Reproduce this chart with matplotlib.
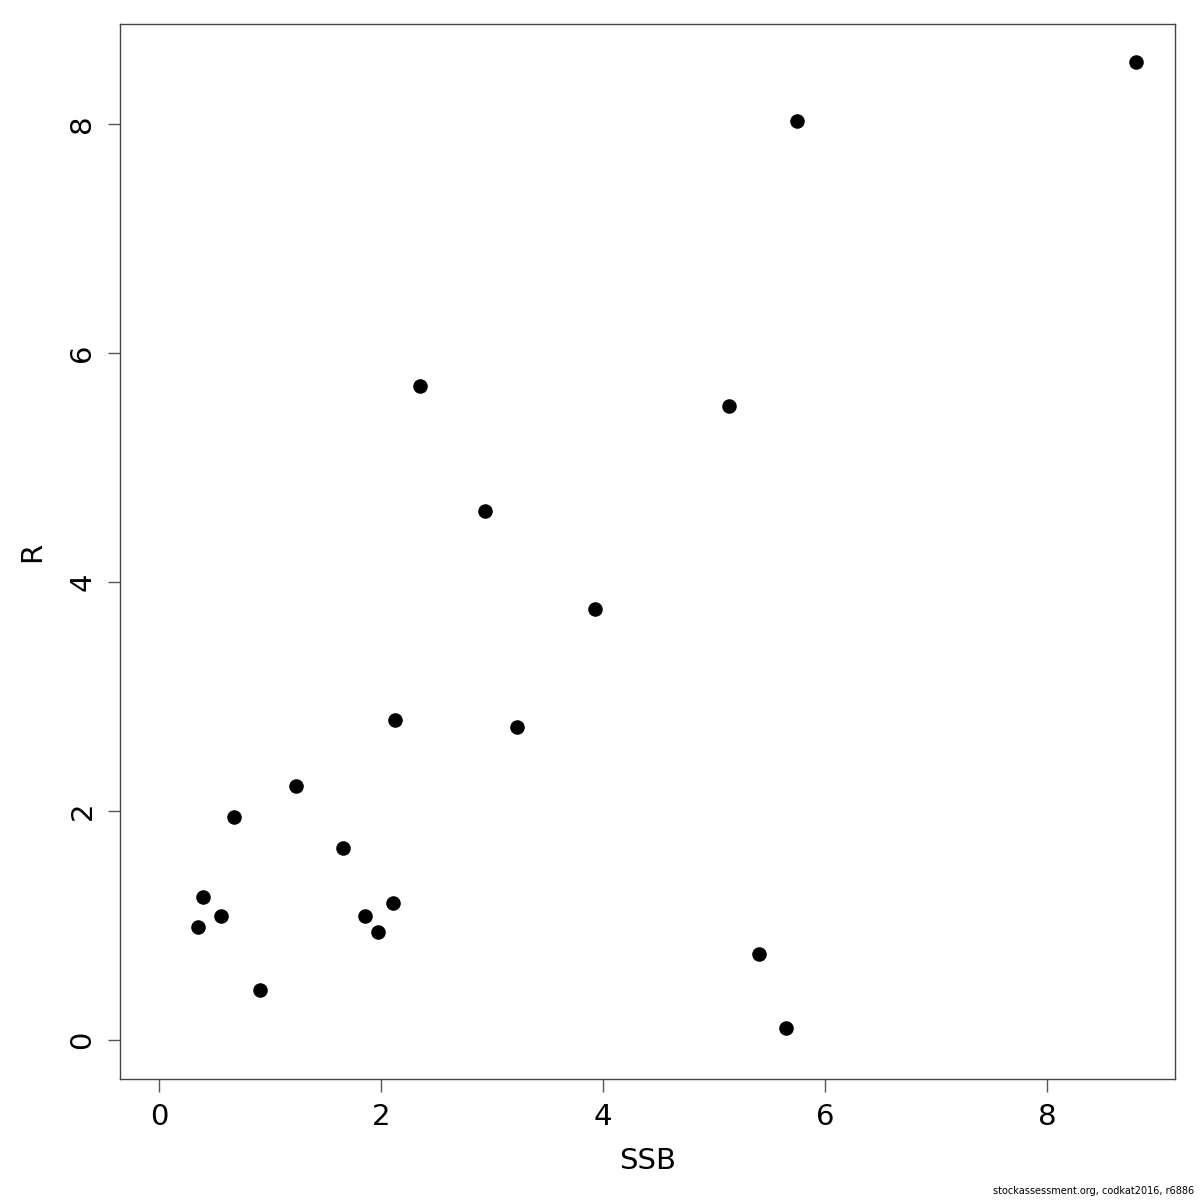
import matplotlib
matplotlib.use("Agg")
import matplotlib.pyplot as plt

ssb = [0.351, 0.396, 0.559, 0.676, 0.910, 1.234, 1.658, 1.856, 1.973, 2.108,
       2.126, 2.351, 2.937, 3.225, 3.928, 5.135, 5.405, 5.649, 5.748, 8.802]
rec = [0.987, 1.249, 1.083, 1.948, 0.437, 2.218, 1.677, 1.083, 0.943, 1.197,
       2.795, 5.712, 4.620, 2.734, 3.764, 5.537, 0.751, 0.105, 8.026, 8.541]
xticks = [0, 2, 4, 6, 8]
yticks = [0, 2, 4, 6, 8]

plt.rcParams['font.family'] = ['DejaVu Sans']
fig = plt.figure(figsize=(12, 12), dpi=100)
ax = fig.add_axes([120/1200, 1 - 1079/1200, 1055/1200, 1055/1200])
ax.scatter(ssb, rec, s=110, color='black', zorder=3, linewidths=0)
xmax, ymax = 8.8, 8.53
ax.set_xlim(-0.04*xmax, xmax*1.04)
ax.set_ylim(-0.04*ymax, ymax*1.04)
ax.set_xticks(xticks)
ax.set_yticks(yticks)
ax.set_xticklabels([str(t) for t in xticks])
ax.set_yticklabels([str(t) for t in yticks], rotation=90, va='center')
ax.tick_params(direction='out', length=9, width=1, color='#555555', labelsize=21, pad=8)
for s in ax.spines.values():
    s.set_color('#444444')
    s.set_linewidth(1)
ax.set_xlabel('SSB', fontsize=21, labelpad=12)
ax.set_ylabel('R', fontsize=21, labelpad=16)
fig.text(0.995, 0.003, 'stockassessment.org, codkat2016, r6886', fontsize=7, ha='right', va='bottom')
fig.savefig('out.png', dpi=100, facecolor='white')
